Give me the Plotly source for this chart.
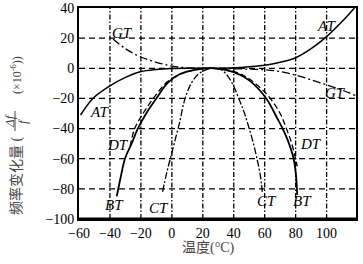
import plotly.graph_objects as go

# ---- data ----
at_t = [-59, -51, -40, -30, -20, -10, 0, 10, 20, 27, 40, 50, 60, 70, 80, 90, 100, 110, 118]
at_y = [-31, -20, -11.7, -6, -2.2, -0.8, -0.2, 0, 0, 0, 0.3, 1, 2, 4, 7, 13, 21, 31, 40]

gt_t = [-38, -30, -20, -10, 0, 10, 20, 27, 40, 50, 60, 70, 80, 91, 100, 110, 118.5]
gt_y = [19.4, 13, 7.5, 4, 1.5, 0.3, 0, 0, -0.3, -0.6, -1, -2.2, -4.5, -8, -11, -14.5, -18]

bt_t = [-35.6, -33, -30.3, -26, -22, -16, -10, -3, 5, 15, 27, 40, 50, 61, 68, 71.6, 75, 78.7, 80.3, 81]
bt_y = [-85, -72, -60, -50, -40, -29, -20, -10, -4, -1, 0, -2.5, -8, -20, -33, -40, -48, -60, -72, -84]

dt_t = [-27, -24, -18, -12, -3, 5, 15, 27, 40, 50, 62, 70, 74, 77.5, 81]
dt_y = [-52, -40, -29, -20, -9, -4, -1, 0, -2, -7, -18, -30, -40, -50, -65]

ct_t = [-6, -3.5, -1, 2, 5, 8, 12, 17, 22, 27, 32, 36, 40, 44, 47, 50, 53, 55, 57, 58.5]
ct_y = [-82, -70, -60, -48, -36, -22, -11, -4, -1, 0, -1, -5, -12, -22, -30, -40, -51, -60, -70, -82]

x_ticks = [-60, -40, -20, 0, 20, 40, 60, 80, 100]
y_ticks = [-100, -80, -60, -40, -20, 0, 20, 40]
x_grid = [-40, -20, 0, 20, 40, 60, 80, 100]
y_grid = [-80, -60, -40, -20, 0, 20]

labels = [("GT", -32, 23.3), ("AT", 100, 28), ("GT", 106, -16.4), ("AT", -46.5, -29),
          ("DT", -35, -51), ("DT", 89.7, -50.3), ("BT", -37, -91), ("CT", -8.4, -93),
          ("CT", 61.3, -88), ("BT", 84.5, -88)]

# ---- layout geometry ----
W, H = 363, 264
L, R, T, B = 79, 7, 8, 45
PW, PH = W - L - R, H - T - B

def px(x):   # page pixel -> paper x
    return (x - L) / PW

def py(y):   # page pixel -> paper y
    return (H - B - y) / PH

fig = go.Figure()

# grid lines (style only, positioned on the axis scales)
for gx in x_grid:
    fig.add_shape(type="line", xref="x", yref="paper", x0=gx, x1=gx, y0=0, y1=1, layer="below",
                  line=dict(color="black", width=1.3, dash="5px,2px,1.5px,2px"))
for gy in y_grid:
    fig.add_shape(type="line", xref="paper", yref="y", x0=0, x1=1, y0=gy, y1=gy, layer="below",
                  line=dict(color="black", width=1.3, dash="6px,4px"))

fig.add_trace(go.Scatter(x=at_t, y=at_y, mode="lines", line=dict(color="black", width=1.5, shape="spline")))
fig.add_trace(go.Scatter(x=gt_t, y=gt_y, mode="lines", line=dict(color="black", width=1.3, shape="spline", dash="8px,3px,2px,3px")))
fig.add_trace(go.Scatter(x=bt_t, y=bt_y, mode="lines", line=dict(color="black", width=1.8, shape="spline")))
fig.add_trace(go.Scatter(x=dt_t, y=dt_y, mode="lines", line=dict(color="black", width=1.3, shape="spline", dash="6px,3px")))
fig.add_trace(go.Scatter(x=ct_t, y=ct_y, mode="lines", line=dict(color="black", width=1.3, shape="spline", dash="7px,2px,2px,2px")))

serif = "Liberation Serif, Times New Roman, serif"
for txt, x, y in labels:
    fig.add_annotation(x=x, y=y, text=f"<i>{txt}</i>", showarrow=False,
                       font=dict(family=serif, size=15, color="black"))

cjk = "Liberation Serif, Noto Sans CJK SC"
# y-axis title pieces
fig.add_annotation(xref="paper", yref="paper", x=px(16), y=py(176), text="频率变化量 (",
                   xanchor="center", yanchor="middle",
                   textangle=-90, showarrow=False, font=dict(family=cjk, size=14, color="#444"))
fig.add_annotation(xref="paper", yref="paper", x=px(9), y=py(121), text="<i>Δf</i>",
                   xanchor="center", yanchor="middle",
                   textangle=-90, showarrow=False, font=dict(family=serif, size=13, color="#444"))
fig.add_annotation(xref="paper", yref="paper", x=px(22), y=py(121), text="<i>f</i>",
                   xanchor="center", yanchor="middle",
                   textangle=-90, showarrow=False, font=dict(family=serif, size=13, color="#444"))
fig.add_annotation(xref="paper", yref="paper", x=px(17), y=py(75), text="(×10<sup>-6</sup>))",
                   xanchor="center", yanchor="middle",
                   textangle=-90, showarrow=False, font=dict(family=serif, size=12, color="#444"))
fig.add_shape(type="line", xref="paper", yref="paper", x0=px(15), x1=px(15), y0=py(111), y1=py(131),
              line=dict(color="#444", width=1))
# x-axis title
fig.add_annotation(xref="paper", yref="paper", x=px(208), y=py(248), text="温度(°C)",
                   xanchor="center", yanchor="middle",
                   showarrow=False, font=dict(family=cjk, size=14, color="#444"))
# thick bottom axis
fig.add_shape(type="line", xref="paper", yref="paper", x0=0, x1=1, y0=0, y1=0,
              line=dict(color="black", width=3))

fig.update_layout(
    width=W, height=H, margin=dict(l=L, r=R, t=T, b=B, autoexpand=False),
    paper_bgcolor="white", plot_bgcolor="white", showlegend=False,
    font=dict(family=serif, size=13, color="black"),
)
fig.update_xaxes(range=[-60, 119], tickvals=x_ticks, ticks="", showline=True, mirror=True,
                 linecolor="black", linewidth=1.5, showgrid=False, zeroline=False,
                 automargin=False, tickfont=dict(family=serif, size=14))
fig.update_yaxes(range=[-100, 40], tickvals=y_ticks, ticks="", showline=True, mirror=True,
                 linecolor="black", linewidth=1.8, showgrid=False, zeroline=False,
                 automargin=False, tickfont=dict(family=serif, size=14))

fig.write_html("out.html", config={"displayModeBar": False},
               post_script="document.body.style.margin='0';")
